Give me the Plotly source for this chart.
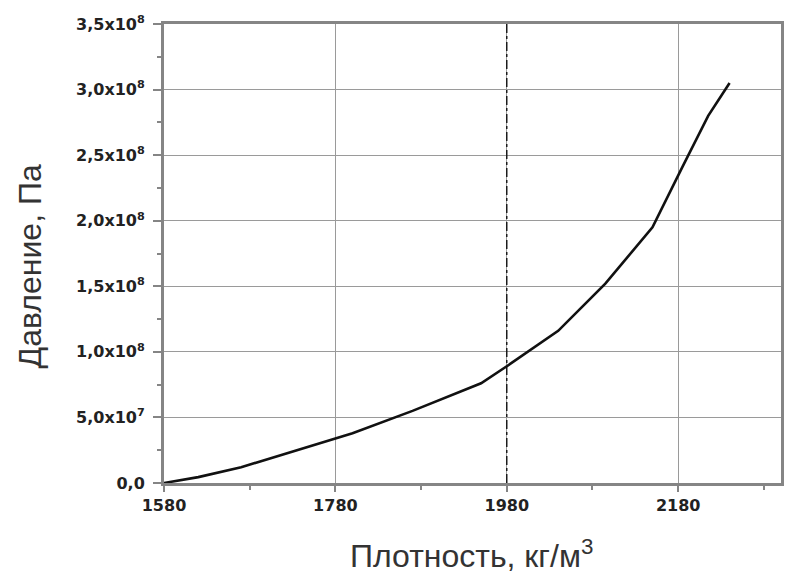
import plotly.graph_objects as go

# Density (kg/m^3) and pressure (Pa) along the compression curve
density = [1580, 1620, 1670, 1730, 1800, 1870, 1950, 1980, 2040, 2095, 2150, 2185, 2215, 2240]
pressure = [0, 4.5e6, 1.2e7, 2.4e7, 3.8e7, 5.5e7, 7.6e7, 8.9e7, 1.16e8, 1.52e8, 1.95e8, 2.41e8, 2.8e8, 3.05e8]

x_tickvals = [1580, 1780, 1980, 2180]
x_ticktext = ["1580", "1780", "1980", "2180"]
y_tickvals = [0, 5e7, 1e8, 1.5e8, 2e8, 2.5e8, 3e8, 3.5e8]
y_ticktext = ["0,0", "5,0x10<sup>7</sup>", "1,0x10<sup>8</sup>", "1,5x10<sup>8</sup>",
              "2,0x10<sup>8</sup>", "2,5x10<sup>8</sup>", "3,0x10<sup>8</sup>", "3,5x10<sup>8</sup>"]
marker_density = 1980

axis_col = "#858585"
grid_col = "#9a9a9a"
tick_font = dict(family="DejaVu Sans", size=16, color="#222222", weight="bold")
title_font = dict(family="Liberation Sans, Arial", size=32, color="#333333")

fig = go.Figure()
fig.add_trace(go.Scatter(
    x=density, y=pressure, mode="lines",
    line=dict(color="#111111", width=2.6),
    showlegend=False,
))

# dash-dot reference line at the marked density
fig.add_shape(type="line", x0=marker_density, x1=marker_density, y0=0, y1=1,
              xref="x", yref="paper", line=dict(color="#111111", width=1.4, dash="dashdot"))

fig.update_xaxes(
    range=[1580, 2300], tickvals=x_tickvals, ticktext=x_ticktext,
    showline=True, linecolor=axis_col, linewidth=3, mirror=True,
    showgrid=True, gridcolor=grid_col, gridwidth=1,
    ticks="outside", ticklen=6, tickwidth=2, tickcolor=axis_col,
    minor=dict(tickvals=[1680, 1880, 2080, 2280], ticks="outside", ticklen=4,
               tickwidth=1.5, tickcolor=axis_col, showgrid=False),
    tickfont=tick_font, zeroline=False,
)
fig.update_yaxes(
    range=[0, 3.5e8], tickvals=y_tickvals, ticktext=y_ticktext,
    showline=True, linecolor=axis_col, linewidth=3, mirror=True,
    showgrid=True, gridcolor=grid_col, gridwidth=1,
    ticks="outside", ticklen=8, tickwidth=2, tickcolor=axis_col,
    minor=dict(dtick=2.5e7, tick0=0, ticks="outside", ticklen=4,
               tickwidth=1.5, tickcolor=axis_col, showgrid=False),
    tickfont=tick_font, ticklabelstandoff=5, zeroline=False,
)

fig.add_annotation(text="Плотность, кг/м<sup>3</sup>", xref="paper", yref="paper",
                   x=0.498, y=-0.155, xanchor="center", yanchor="middle",
                   showarrow=False, font=title_font)
fig.add_annotation(text="Давление, Па", xref="paper", yref="paper",
                   x=-0.218, y=0.473, xanchor="center", yanchor="middle",
                   textangle=-90, showarrow=False, font=title_font)

fig.update_layout(
    width=788, height=585,
    margin=dict(l=164, r=4, t=24, b=102),
    paper_bgcolor="white", plot_bgcolor="white",
)

fig.write_html("out.html")
